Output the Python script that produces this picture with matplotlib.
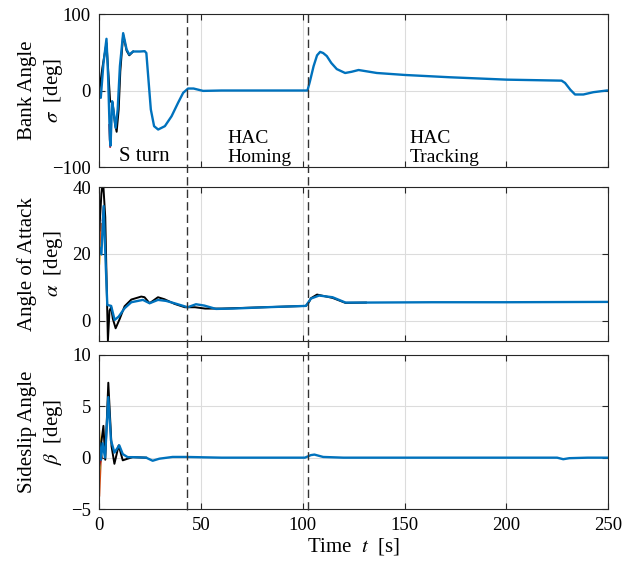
import matplotlib
matplotlib.use("Agg")
import matplotlib.pyplot as plt
from matplotlib.lines import Line2D
from matplotlib.transforms import blended_transform_factory

plt.rcParams['font.family'] = ['Liberation Serif', 'DejaVu Serif']
plt.rcParams['mathtext.fontset'] = 'stix'
plt.rcParams['font.size'] = 13.5

# --- bank angle sigma [deg] ---
t_sig = [0, 0.7, 2.0, 3.5, 4.3, 5.2, 5.5, 6.3, 6.9, 8.0, 9.0, 10.1, 11.7, 13.4, 14.7,
         16.6, 20, 22.3, 23.1, 24.0, 25.3, 26.9, 28.9, 32.2, 35.5, 38.7, 41.2, 43.6, 46.3,
         51, 60, 80, 102.3, 103.5, 105.3, 107, 108.5, 110, 111.8, 114, 116.7, 120.8, 124,
         127.4, 136.4, 150.3, 172.4, 200.2, 227.2, 228.9, 231.5, 233.8, 237.9, 242.8,
         249.4, 250]
sig = [-6, -9.6, 35, 67.6, 18.7, -64, -72, -14, -25, -48.8, -25, 31.8, 75, 53.6, 47,
       51, 51, 51.4, 49, 18.7, -24.8, -46.6, -51, -46.6, -33.6, -16, -3, 2.6, 2.6,
       -0.5, 0, 0, 0, 12, 31.8, 46, 50.5, 49, 45, 36, 28, 22.9, 24.5,
       26.8, 22.9, 20.3, 17.3, 14.2, 12.9, 9.9, 1, -5.2, -5.2, -2.2,
       0, 0]
t_sig_ref = [0, 1.5, 3.5, 4.5, 5.3, 6.5, 7.7, 8.5, 9.5, 10.3, 11.7, 13.4, 14.7, 16.6]
sig_ref = [0, 30, 62, 20, -14, -16, -44, -54, -25, 25, 73, 52, 46, 51]
t_sig_red = [4.8, 5.3, 5.8]
sig_red = [-45, -74, -45]

# --- angle of attack alpha [deg] ---
t_alp = [0, 1.0, 2.1, 3.1, 3.9, 5.8, 7.5, 9.5, 12.4, 15.7, 21.4, 24.7, 28.8, 32.8,
         36.9, 43.4, 47.5, 51.6, 57.3, 65.5, 81.8, 101.5, 104, 108, 112, 114.6, 121,
         131, 163.6, 200, 250]
alp = [21.8, 19.8, 34.3, 17.3, 4.7, 4.4, 0.2, 1.2, 3.7, 5.5, 6.2, 5.2, 6.2, 5.9,
       5.2, 4.0, 4.9, 4.5, 3.5, 3.6, 4.0, 4.4, 6.6, 7.5, 7.2, 7.0, 5.4,
       5.4, 5.5, 5.5, 5.6]
t_alp_ref = [0, 1.0, 1.8, 2.9, 3.9, 4.2, 5.0, 5.8, 6.6, 8.0, 10, 12.4, 15.7, 20.6, 22.2,
             24.7, 28.8, 32, 37, 42, 47, 52, 60, 101.5, 103, 104, 107, 110, 114.6, 121,
             131]
alp_ref = [27, 38, 42, 31, 2.3, -6, 3, 4, 0.6, -2.3, 0.5, 4.3, 6.3, 7.2, 7.0,
           5.2, 7.0, 6.4, 5, 4, 4, 3.6, 3.6, 4.4, 5.5, 6.7, 7.8, 7.4, 6.8, 5.3,
           5.4]
t_alp_red = [1.6, 2.1, 2.6]
alp_red = [30, 34, 30]
t_alp_org = [0, 0.5, 1.0]
alp_org = [22, 25, 29]
t_alp_yel = [0, 0.3, 0.8]
alp_yel = [17, 20, 26]

# --- sideslip angle beta [deg] ---
t_bet = [0, 0.8, 1.6, 2.8, 4.4, 5.7, 7.4, 9.8, 11.5, 13.9, 16.4, 23, 26.2, 29.5,
         36, 42.6, 60, 101, 104, 105.7, 110, 120, 225, 228, 231, 240, 250]
bet = [1.4, -0.2, 1.4, 0, 5.9, 1.7, 0.5, 1.2, 0.35, 0.05, 0.05, 0, -0.3, -0.1,
       0.07, 0.07, 0, 0, 0.25, 0.3, 0.07, 0, 0, -0.15, -0.05, 0, 0]
t_bet_ref = [0, 2.0, 2.9, 4.4, 6.0, 7.4, 9.5, 11.5, 13.9, 16.4, 23]
bet_ref = [0, 3.1, -0.2, 7.3, 1.1, -0.6, 1.2, -0.26, -0.1, 0.05, 0]
t_bet_org = [0, 0.4, 0.9, 1.4]
bet_org = [-3.7, -1.8, 0.3, 0]
t_bet_yel = [0, 0.4, 1.0]
bet_yel = [2.6, 1.5, 0.2]
t_bet_grn = [0, 0.5, 1.0]
bet_grn = [-1.2, -0.4, 0.1]
t_bet_red = [0, 0.6, 1.1]
bet_red = [-0.8, -0.3, 0]

t_phase = [43.3, 102.4]

blue = '#0072BD'
fig = plt.figure(figsize=(6.41, 5.65), dpi=100)
ax1 = fig.add_axes([0.155, 0.7044, 0.7935, 0.2708])
ax2 = fig.add_axes([0.155, 0.3965, 0.7935, 0.2725])
ax3 = fig.add_axes([0.155, 0.0991, 0.7935, 0.2726])

ax1.plot(t_sig_red, sig_red, color='#A2142F', lw=1.3)
ax1.plot(t_sig_ref, sig_ref, color='k', lw=1.4)
ax1.plot(t_sig, sig, color=blue, lw=1.7)

ax2.plot(t_alp_yel, alp_yel, color='#EDB120', lw=1.3)
ax2.plot(t_alp_org, alp_org, color='#D95319', lw=1.3)
ax2.plot(t_alp_red, alp_red, color='#A2142F', lw=1.3)
ax2.plot(t_alp_ref, alp_ref, color='k', lw=1.4)
ax2.plot(t_alp, alp, color=blue, lw=1.7)

ax3.plot(t_bet_org, bet_org, color='#D95319', lw=1.3)
ax3.plot(t_bet_yel, bet_yel, color='#EDB120', lw=1.3)
ax3.plot(t_bet_grn, bet_grn, color='#77AC30', lw=1.3)
ax3.plot(t_bet_red, bet_red, color='#A2142F', lw=1.3)
ax3.plot(t_bet_ref, bet_ref, color='k', lw=1.4)
ax3.plot(t_bet, bet, color=blue, lw=1.7)

ax1.set_ylim(-100, 100)
ax1.set_yticks([-100, 0, 100])
ax2.set_ylim(-6.1, 40)
ax2.set_yticks([0, 20, 40])
ax3.set_ylim(-5, 10)
ax3.set_yticks([-5, 0, 5, 10])

for ax in (ax1, ax2, ax3):
    ax.set_xlim(0, 250)
    ax.set_xticks([0, 50, 100, 150, 200, 250])
    ax.grid(True, color='#dcdcdc', lw=0.8)
    ax.set_axisbelow(True)
    ax.tick_params(direction='in', top=True, right=True, length=4, width=0.8,
                   color='#262626', pad=6)
    for s in ax.spines.values():
        s.set_color('#262626')
        s.set_linewidth(0.8)
ax1.tick_params(labelbottom=False)
ax2.tick_params(labelbottom=False)

ax1.set_ylabel('Bank Angle\n$\\sigma$  [deg]', fontsize=15, linespacing=1.3)
ax2.set_ylabel('Angle of Attack\n$\\alpha$  [deg]', fontsize=15, linespacing=1.3)
ax3.set_ylabel('Sideslip Angle\n$\\beta$  [deg]', fontsize=15, linespacing=1.3)
ax3.set_xlabel('Time  $t$  [s]', fontsize=15, labelpad=1)
for ax in (ax1, ax2, ax3):
    ax.yaxis.set_label_coords(-0.068, 0.5)

ax1.text(9.6, -99, 'S turn', ha='left', va='bottom', fontsize=15)
ax1.text(63, -99, 'HAC\nHoming', ha='left', va='bottom', fontsize=14, linespacing=1.15)
ax1.text(152.5, -99, 'HAC\nTracking', ha='left', va='bottom', fontsize=14, linespacing=1.15)

# phase boundaries across all panels
tr = blended_transform_factory(ax1.transData, fig.transFigure)
for tp in t_phase:
    fig.add_artist(Line2D([tp, tp], [0.097, 0.976], transform=tr, color='#333333',
                          lw=1.0, ls=(0, (6, 3))))

fig.savefig('out.png', dpi=100)
